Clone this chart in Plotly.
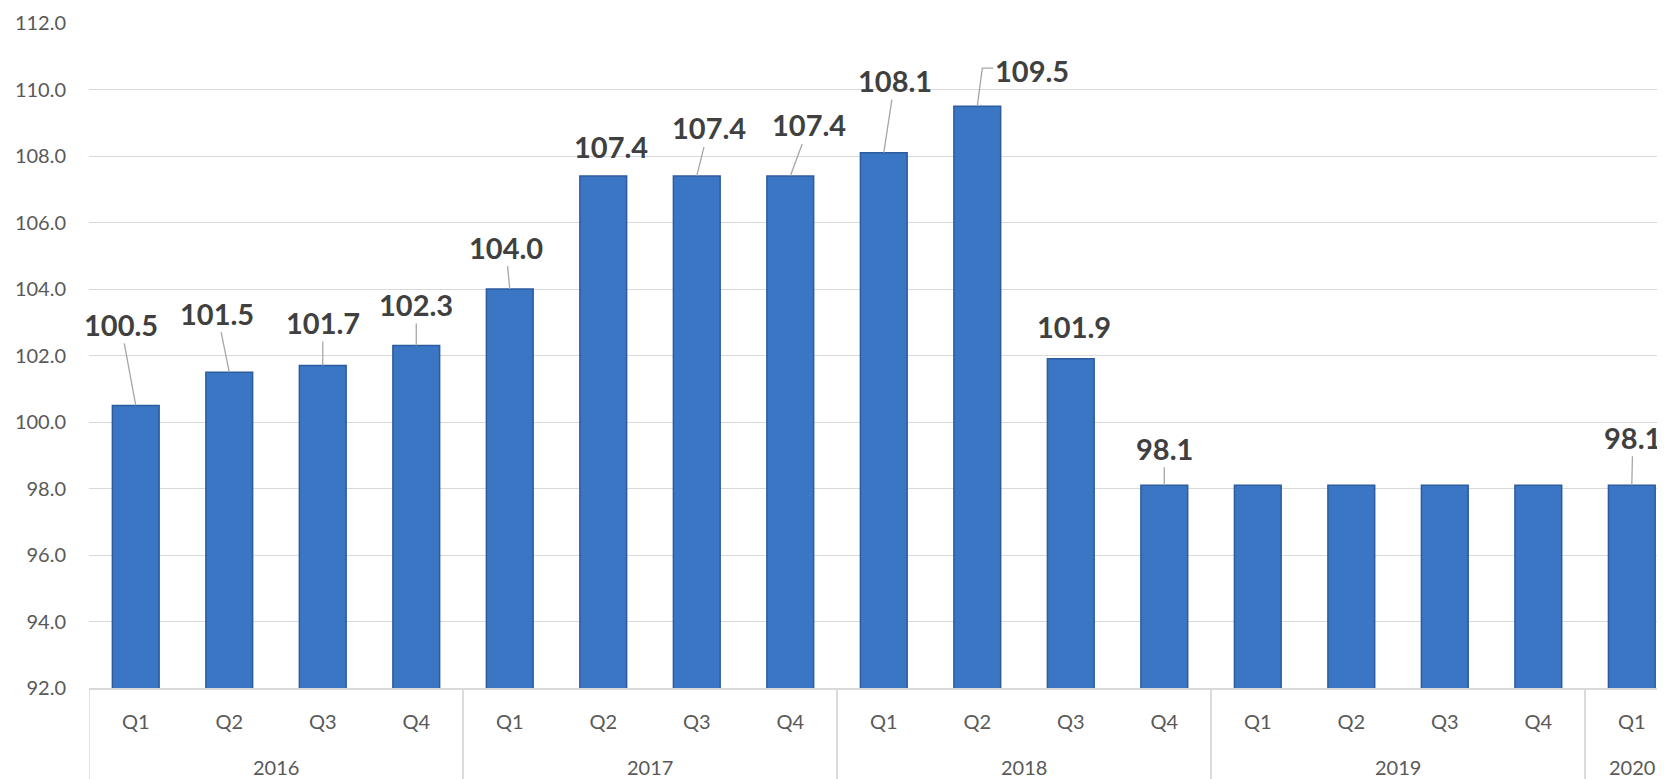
import plotly.graph_objects as go

# ---- data ----
years = ["2016", "2016", "2016", "2016",
         "2017", "2017", "2017", "2017",
         "2018", "2018", "2018", "2018",
         "2019", "2019", "2019", "2019",
         "2020"]
quarters = ["Q1", "Q2", "Q3", "Q4",
            "Q1", "Q2", "Q3", "Q4",
            "Q1", "Q2", "Q3", "Q4",
            "Q1", "Q2", "Q3", "Q4",
            "Q1"]
values = [100.5, 101.5, 101.7, 102.3,
          104.0, 107.4, 107.4, 107.4,
          108.1, 109.5, 101.9, 98.1,
          98.1, 98.1, 98.1, 98.1,
          98.1]

# which bars carry a data label, and the label offset (pixels) from bar top
label_offsets = {
    0: (-15, -81, True),
    1: (-12, -59, True),
    2: (0, -43, True),
    3: (0, -41, True),
    4: (-4, -42, True),
    5: (8, -29, False),
    6: (12, -48, True),
    7: (19, -51, True),
    8: (11, -72, True),
    9: (55, -36, False),
    10: (3, -32, False),
    11: (0, -37, True),
    16: (1, -48, True),
}

# ---- layout geometry (page body has an 8px margin) ----
PAGE_W, PAGE_H = 1665, 779
BODY = 8
W, H = PAGE_W - BODY, PAGE_H - BODY
ML, MT, MB, MR = 89 - BODY, 23 - BODY, 91, 0
Y0, Y1 = 92, 112
n = len(values)
x = list(range(n))
X_RANGE = [-0.5, 16.355]
px_per_x = (W - ML - MR) / (X_RANGE[1] - X_RANGE[0])
px_per_y = (H - MT - MB) / (Y1 - Y0)

GRID = "#d9d9d9"
TXT = "#595959"
LBL = "#404040"
FONT = "Lato, 'Open Sans', sans-serif"

fig = go.Figure()
fig.add_trace(go.Bar(
    x=x, y=values,
    marker=dict(color="#3a76c4", line=dict(color="#2c5c9e", width=1.5)),
    width=0.5,
    hoverinfo="skip",
))

annotations = []
for i, (dx, dy, arrow) in label_offsets.items():
    v = values[i]
    txt = f"{v:.1f}"
    if arrow:
        annotations.append(dict(
            x=i, y=v, xref="x", yref="y", text=txt,
            showarrow=True, ax=dx, ay=dy, arrowhead=0, arrowwidth=1.3,
            arrowcolor="#a6a6a6", standoff=0,
            font=dict(family=FONT, size=29, color=LBL, weight="bold"),
        ))
    else:
        annotations.append(dict(
            x=i, y=v, xref="x", yref="y", text=txt,
            showarrow=False, xshift=dx, yshift=-dy,
            font=dict(family=FONT, size=29, color=LBL, weight="bold"),
        ))

# elbow leader line for the 2018 Q2 label
i_elb = 9
v = values[i_elb]
ex = i_elb + 5 / px_per_x
ey = v + 38 / px_per_y
hx = i_elb + 16 / px_per_x
shapes = [dict(type="path", xref="x", yref="y",
               path=f"M {i_elb},{v} L {ex},{ey} L {hx},{ey}",
               line=dict(color="#a6a6a6", width=1.3))]

# year group labels and dividers
groups = []
for i, yv in enumerate(years):
    if not groups or groups[-1][0] != yv:
        groups.append([yv, i, i])
    else:
        groups[-1][2] = i
for yv, a, b in groups:
    annotations.append(dict(
        x=(a + b) / 2, y=0, xref="x", yref="paper", text=yv,
        showarrow=False, yanchor="middle", yshift=-79,
        font=dict(family=FONT, size=20, color=TXT),
    ))
    for bnd in (a - 0.5, b + 0.5):
        shapes.append(dict(type="line", xref="x", yref="paper",
                           x0=bnd, x1=bnd, y0=0, y1=-0.2,
                           line=dict(color=GRID, width=1.5)))

fig.update_layout(
    width=W, height=H,
    margin=dict(l=ML, r=MR, t=MT, b=MB, pad=0),
    paper_bgcolor="white", plot_bgcolor="white",
    showlegend=False,
    bargap=0.5,
    font=dict(family=FONT, color=TXT),
    annotations=annotations,
    shapes=shapes,
    xaxis=dict(
        range=X_RANGE, tickmode="array", tickvals=x, ticktext=quarters,
        showgrid=False, zeroline=False, showline=True, linecolor=GRID,
        linewidth=1.5, ticks="", ticklabelstandoff=15,
        tickfont=dict(family=FONT, size=20, color=TXT),
    ),
    yaxis=dict(
        range=[Y0, Y1], dtick=2, tick0=92, tickformat=".1f",
        showgrid=True, gridcolor=GRID, gridwidth=1.3, zeroline=False,
        showline=False, ticks="", ticklabelstandoff=22,
        tickfont=dict(family=FONT, size=20, color=TXT),
    ),
)

fig.write_html("out.html", config={"displayModeBar": False})
